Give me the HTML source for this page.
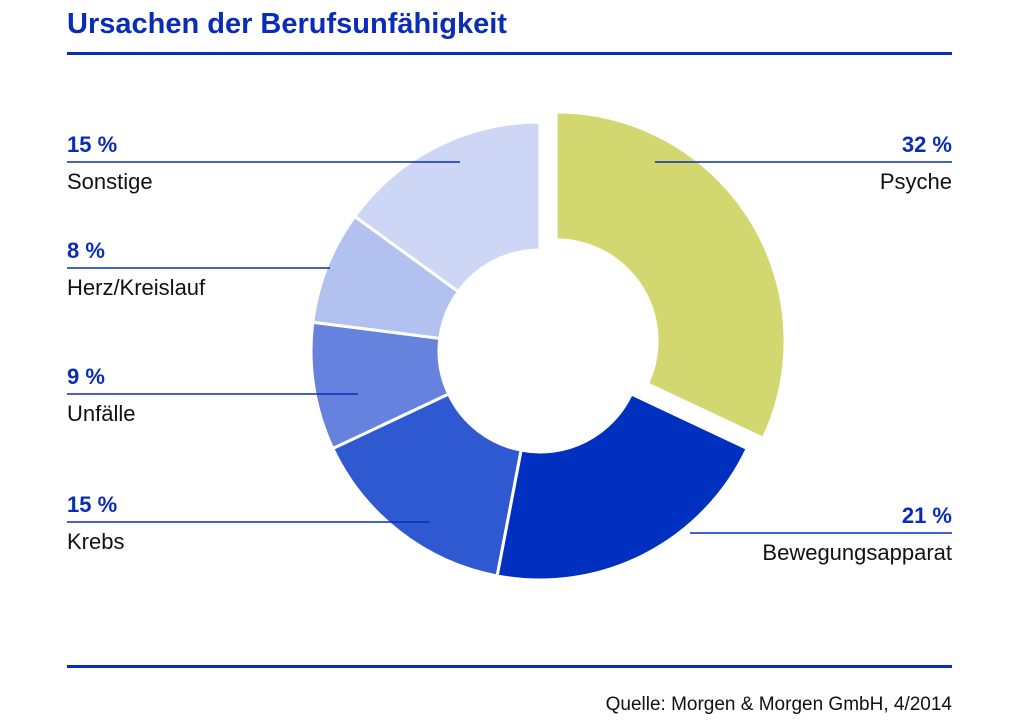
<!DOCTYPE html>
<html><head><meta charset="utf-8"><style>
body{margin:0;background:#fff;width:1024px;height:725px;overflow:hidden;font-family:"Liberation Sans",sans-serif;}
svg{display:block}
</style></head><body>
<svg width="1024" height="725">
<text x="67" y="33" font-size="29" font-weight="bold" fill="#0a2db8">Ursachen der Berufsunfähigkeit</text>
<rect x="67" y="52" width="885" height="3" fill="#0a2db8"/>
<g id="slices"></g>
<g id="labels"></g>
<rect x="67" y="665" width="885" height="3" fill="#0a2db8"/>
<text x="952" y="710" font-size="19" text-anchor="end" fill="#111">Quelle: Morgen &amp; Morgen GmbH, 4/2014</text>
</svg>
<script>
const categories=["Psyche","Bewegungsapparat","Krebs","Unfälle","Herz/Kreislauf","Sonstige"];
const values=[32,21,15,9,8,15];
const valueLabels=["32 %","21 %","15 %","9 %","8 %","15 %"];
const colors=["#d3d76f","#0030c0","#2e59d0","#6583de","#b2c1ef","#cdd6f4"];
const NS="http://www.w3.org/2000/svg";
const cx=540,cy=351,R=229,r=101,explode=19;
const total=values.reduce((a,b)=>a+b,0);
function pt(a,rad,ox,oy){return [cx+ox+rad*Math.sin(a),cy+oy-rad*Math.cos(a)];}
const g=document.getElementById('slices');
let acc=0;
values.forEach((v,i)=>{
  const a0=acc/total*2*Math.PI, a1=(acc+v)/total*2*Math.PI; acc+=v;
  const am=(a0+a1)/2, d=i===0?explode:0;
  const ox=d*Math.sin(am), oy=-d*Math.cos(am);
  const large=(a1-a0)>Math.PI?1:0;
  const p1=pt(a0,R,ox,oy),p2=pt(a1,R,ox,oy),p3=pt(a1,r,ox,oy),p4=pt(a0,r,ox,oy);
  const p=document.createElementNS(NS,'path');
  p.setAttribute('d',`M${p1}A${R},${R} 0 ${large} 1 ${p2}L${p3}A${r},${r} 0 ${large} 0 ${p4}Z`);
  p.setAttribute('fill',colors[i]);p.setAttribute('stroke','#fff');p.setAttribute('stroke-width','3');
  
  
  g.appendChild(p);
});
// label layout: [side, lineY, lineEndX]
const layout=[["r",162,655],["r",533,690],["l",522,430],["l",394,358],["l",268,330],["l",162,460]];
const L=document.getElementById('labels');
layout.forEach((c,i)=>{
  const [side,y,ex]=c;
  const ln=document.createElementNS(NS,'line');
  const x1=side==="l"?67:ex,x2=side==="l"?ex:952;
  ln.setAttribute('x1',x1);ln.setAttribute('x2',x2);ln.setAttribute('y1',y);ln.setAttribute('y2',y);
  ln.setAttribute('stroke','#0a2db8');ln.setAttribute('stroke-width','1.5');
  
  
  L.appendChild(ln);
  const tx=side==="l"?67:952, anc=side==="l"?"start":"end";
  const t1=document.createElementNS(NS,'text');
  t1.setAttribute('x',tx);t1.setAttribute('y',y-10);t1.setAttribute('text-anchor',anc);
  t1.setAttribute('font-size','22');t1.setAttribute('font-weight','bold');t1.setAttribute('fill','#0a2db8');
  t1.textContent=valueLabels[i];
  
  
  L.appendChild(t1);
  const t2=document.createElementNS(NS,'text');
  t2.setAttribute('x',tx);t2.setAttribute('y',y+27);t2.setAttribute('text-anchor',anc);
  t2.setAttribute('font-size','22');t2.setAttribute('fill','#111');
  t2.textContent=categories[i];
  
  
  L.appendChild(t2);
});
</script>
</body></html>
